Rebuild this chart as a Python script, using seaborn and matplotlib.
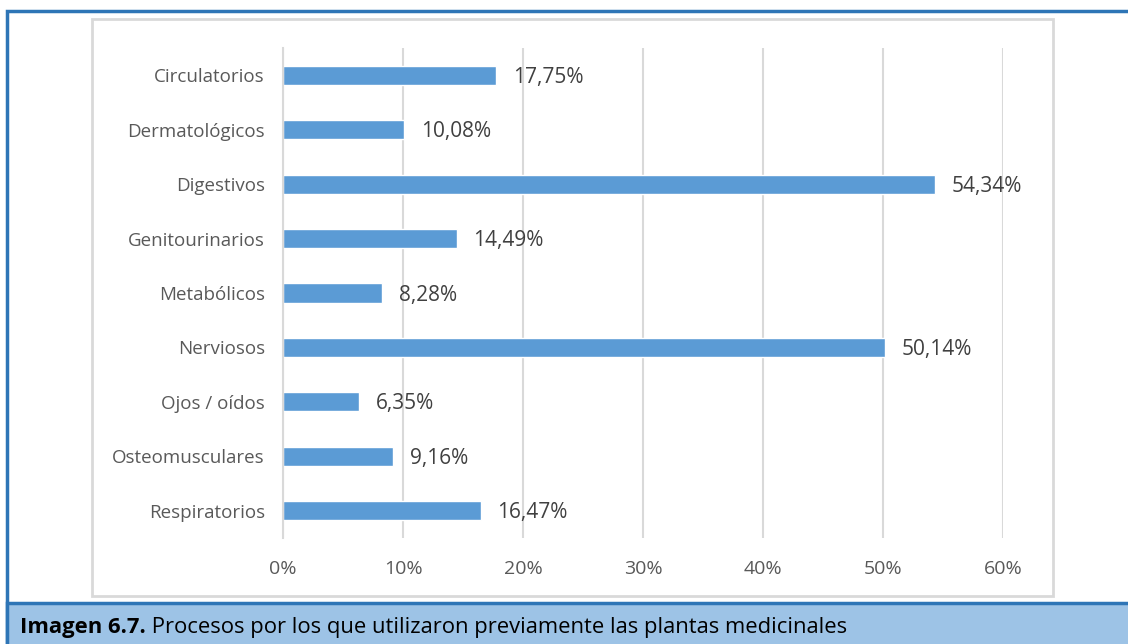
import matplotlib
matplotlib.use('Agg')
import matplotlib.pyplot as plt
import matplotlib.patches as mpatches
import seaborn as sns
import pandas as pd

# Data
categorias = ['Circulatorios', 'Dermatológicos', 'Digestivos', 'Genitourinarios',
              'Metabólicos', 'Nerviosos', 'Ojos / oídos', 'Osteomusculares',
              'Respiratorios']
porcentajes = [17.75, 10.08, 54.34, 14.49, 8.28, 50.14, 6.35, 9.16, 16.47]
ticks_x = [0, 10, 20, 30, 40, 50, 60]
titulo_negrita = 'Imagen 6.7.'
titulo_resto = ' Procesos por los que utilizaron previamente las plantas medicinales'

df = pd.DataFrame({'Proceso': categorias, 'Porcentaje': porcentajes})

sns.set_theme(style='white')
plt.rcParams['font.family'] = ['Open Sans', 'DejaVu Sans']

W, H = 1128, 644
fig = plt.figure(figsize=(W / 100, H / 100), dpi=100)

# outer frame, caption band and inner chart box (figure pixel coords -> fractions)
def px_rect(x0, y0, x1, y1, **kw):
    r = mpatches.Rectangle((x0 / W, 1 - y1 / H), (x1 - x0) / W, (y1 - y0) / H,
                           transform=fig.transFigure, zorder=-10, **kw)
    fig.patches.append(r)

px_rect(6.5, 11, 1140, 700, facecolor='white', edgecolor='#2E75B6', linewidth=2.5)
px_rect(6.5, 603, 1140, 700, facecolor='#9DC3E6', edgecolor='#2E75B6', linewidth=2.5)
px_rect(92, 19, 1053, 596, facecolor='white', edgecolor='#D9D9D9', linewidth=2)

ax = fig.add_axes([283 / W, 1 - 538 / H, (1003 - 283) / W, (538 - 48) / H])
sns.barplot(data=df, x='Porcentaje', y='Proceso', orient='h', color='#5B9BD5',
            width=0.35, saturation=1, ax=ax)

ax.set_xlim(0, 60)
ax.set_ylim(len(categorias) - 0.5, -0.5)
ax.set_xticks(ticks_x)
ax.set_xticklabels([f'{t}%' for t in ticks_x])
ax.xaxis.grid(True, color='#D9D9D9', linewidth=1.5)
ax.set_axisbelow(True)
ax.set_xlabel('')
ax.set_ylabel('')
for s in ['top', 'right', 'bottom']:
    ax.spines[s].set_visible(False)
ax.spines['left'].set_color('#D9D9D9')
ax.spines['left'].set_linewidth(1.5)
ax.tick_params(axis='y', length=0, labelsize=13.5, labelcolor='#595959', pad=13)
ax.tick_params(axis='x', length=0, labelsize=14, labelcolor='#595959', pad=16)
ax.set_facecolor('none')

for i, v in enumerate(porcentajes):
    ax.annotate(f'{v:.2f}%'.replace('.', ','), (v, i), xytext=(12, -1.5),
                textcoords='offset points', va='center', ha='left',
                fontsize=15, color='#404040')

# caption: bold part then regular part
t1 = fig.text(20 / W, 1 - 627 / H, titulo_negrita, fontsize=15.8, fontweight='bold',
              color='black', va='center', ha='left')
fig.canvas.draw()
bb = t1.get_window_extent()
fig.text(bb.x1 / W, 1 - 627 / H, titulo_resto, fontsize=15.8, color='black',
         va='center', ha='left')

fig.savefig('out.png', dpi=100)
